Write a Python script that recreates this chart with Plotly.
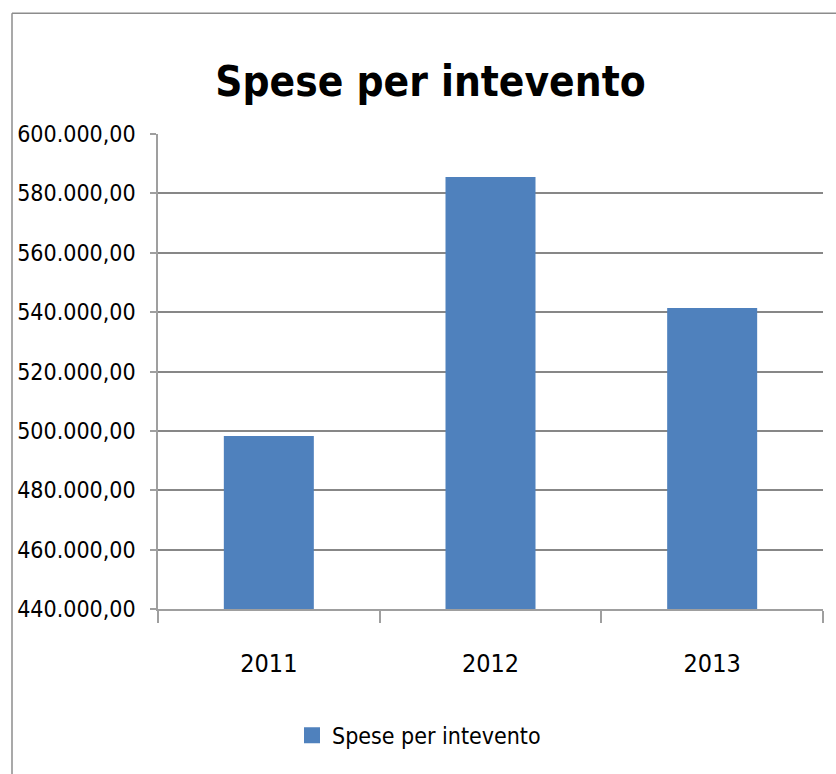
import plotly.graph_objects as go

categories = ["2011", "2012", "2013"]
values = [498300, 585500, 541400]
series_name = "Spese per intevento"
title_text = "Spese per intevento"

BAR = "#4F81BD"
GRID = "#878787"
AXIS = "#9f9f9f"
FONT = "DejaVu Sans Condensed, Roboto, sans-serif"

W, H = 836, 774
L, R, T, B = 158, 13, 134, 164.5
pw = W - L - R
ph = H - T - B

fig = go.Figure()
fig.add_trace(go.Bar(x=categories, y=values, marker=dict(color=BAR, line=dict(width=0)),
                     width=0.406, showlegend=False, name=series_name))
fig.add_trace(go.Scatter(x=[None], y=[None], mode="markers", name=series_name,
                         marker=dict(symbol="square", size=16, color=BAR)))

def px_x(px):
    return (px - L) / pw

def px_y(py):
    return 1 - (py - T) / ph

fig.update_layout(
    width=W, height=H,
    margin=dict(l=L, r=R, t=T, b=B, pad=0, autoexpand=False),
    paper_bgcolor="white", plot_bgcolor="white",
    separators=",.",
    font=dict(family=FONT, color="black"),
    title=dict(text="<b>" + title_text + "</b>", font=dict(family=FONT, size=42, color="black"),
               x=430.5 / W, xanchor="center", xref="container",
               y=1 - 81 / H, yanchor="middle", yref="container"),
    showlegend=True,
    legend=dict(orientation="h", x=px_x(292), xanchor="left", y=px_y(736), yanchor="middle",
                font=dict(family=FONT, size=23, color="black"), itemwidth=30,
                bgcolor="rgba(0,0,0,0)"),
    xaxis=dict(type="category", showline=True, linecolor=AXIS, linewidth=1.5, automargin=False,
               ticks="outside", tickson="boundaries", ticklen=12, tickcolor=AXIS, tickwidth=1.5,
               tickfont=dict(family=FONT, size=25, color="black"), ticklabelstandoff=31,
               showgrid=False, range=[-0.5, 2.5]),
    yaxis=dict(range=[440000, 600000], dtick=20000, tick0=440000, tickformat=",.2f",
               showgrid=True, gridcolor=GRID, gridwidth=1.5, automargin=False,
               showline=True, linecolor=AXIS, linewidth=1.5,
               ticks="outside", ticklen=6, tickcolor=AXIS, tickwidth=1.5,
               tickfont=dict(family=FONT, size=23, color="black"), ticklabelstandoff=10,
               zeroline=False),
    shapes=[
        dict(type="line", xref="paper", yref="paper", x0=px_x(12), x1=px_x(840),
             y0=px_y(13), y1=px_y(13), line=dict(color="#8c8c8c", width=1.5)),
        dict(type="line", xref="paper", yref="paper", x0=px_x(12), x1=px_x(12),
             y0=px_y(13), y1=px_y(780), line=dict(color="#8c8c8c", width=1.5)),
    ],
)

fig.write_html("out.html")
